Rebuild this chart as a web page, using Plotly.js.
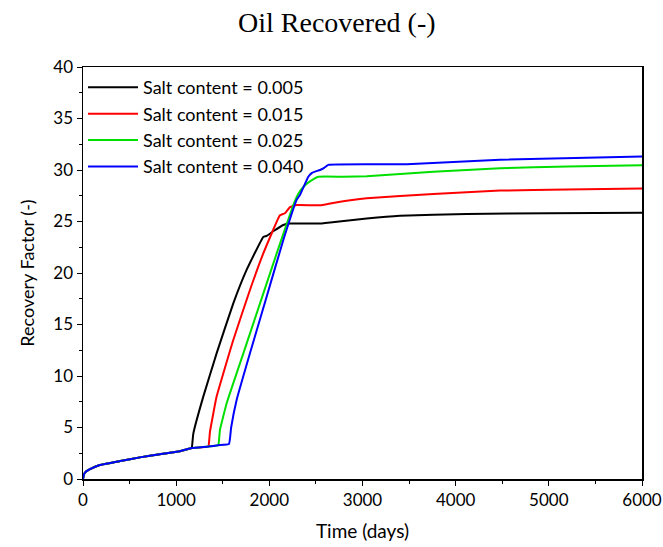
<!DOCTYPE html>
<html>
<head>
<meta charset="utf-8">
<script src="https://cdn.plot.ly/plotly-3.0.1.min.js"></script>
<style>html,body{margin:0;padding:0;background:#fff;}#chart{width:663px;height:547px;}</style>
</head>
<body>
<div id="chart"></div>
<script>
// Shared early-time curve (days, recovery factor)
const baseT = [0, 10, 30, 75, 180, 400, 610, 825, 1040, 1166];
const baseY = [0, 0.45, 0.7, 0.95, 1.36, 1.75, 2.1, 2.4, 2.7, 3.0];

const seriesNames = ["Salt content = 0.005", "Salt content = 0.015", "Salt content = 0.025", "Salt content = 0.040"];

const t005 = [1175, 1184, 1291, 1434, 1613, 1756, 1935, 1971, 2050, 2150, 2222, 2544, 2750, 3045, 3402, 4118, 5000, 6000];
const y005 = [3.6, 4.4, 8.0, 12.2, 17.05, 20.3, 23.5, 23.6, 24.1, 24.66, 24.8, 24.8, 25.0, 25.3, 25.57, 25.73, 25.8, 25.85];

const t015 = [1345, 1355, 1363, 1434, 1613, 1792, 1935, 2114, 2168, 2222, 2293, 2544, 2684, 3045, 3760, 4476, 5192, 6000];
const y015 = [3.15, 3.8, 4.6, 8.0, 13.5, 18.35, 21.9, 25.6, 25.8, 26.4, 26.6, 26.57, 26.8, 27.25, 27.67, 28.0, 28.1, 28.2];

const t025 = [1345, 1452, 1462, 1470, 1542, 1721, 1900, 2079, 2257, 2311, 2380, 2436, 2526, 2800, 3045, 3760, 4476, 5200, 6000];
const y025 = [3.15, 3.3, 4.0, 4.76, 7.35, 12.2, 17.05, 21.9, 26.6, 27.7, 28.5, 28.9, 29.35, 29.35, 29.4, 29.84, 30.16, 30.35, 30.45];

const t040 = [1345, 1452, 1567, 1590, 1649, 1792, 1971, 2150, 2293, 2330, 2400, 2418, 2454, 2490, 2544, 2580, 2633, 3474, 4476, 6000];
const y040 = [3.15, 3.28, 3.4, 5.0, 7.67, 12.2, 17.7, 23.2, 27.1, 27.6, 29.0, 29.35, 29.7, 29.84, 30.0, 30.16, 30.5, 30.55, 31.0, 31.3];

const colors = ["#000000", "#ff0000", "#00e000", "#0000ff"];
const tList = [t005, t015, t025, t040];
const yList = [y005, y015, y025, y040];

const traces = seriesNames.map((n, i) => ({
  x: baseT.concat(tList[i]),
  y: baseY.concat(yList[i]),
  name: n,
  type: "scatter",
  mode: "lines",
  line: {color: colors[i], width: 2, shape: "spline", smoothing: 0.3}
}));

const sans = "Lato, 'Open Sans', sans-serif";
const tickFont = {family: sans, size: 17, color: "#000"};

const layout = {
  width: 663, height: 547,
  margin: {l: 83, r: 21, t: 67, b: 68},
  paper_bgcolor: "#fff", plot_bgcolor: "#fff",
  showlegend: true,
  title: {text: "Oil Recovered (-)", font: {family: "'Liberation Serif', 'DejaVu Serif', serif", size: 28, color: "#000"},
          x: 0.508, xanchor: "center", xref: "container", y: 0.96, yanchor: "middle", yref: "container"},
  legend: {x: 0.0, y: 0.995, xanchor: "left", yanchor: "top", bgcolor: "rgba(255,255,255,0)",
           font: {family: sans, size: 18, color: "#000"}, tracegroupgap: 0, itemwidth: 50},
  xaxis: {
    range: [0, 6000], dtick: 1000, showgrid: false, zeroline: false,
    showline: true, linecolor: "#000", linewidth: 1.5, mirror: true,
    ticks: "outside", ticklen: 5, tickwidth: 1, tickcolor: "#000",
    minor: {dtick: 500, ticks: "outside", ticklen: 3, tickcolor: "#000", showgrid: false},
    tickfont: tickFont,
    title: {text: "Time (days)", font: {family: sans, size: 19, color: "#000"}, standoff: 16}
  },
  yaxis: {
    range: [0, 40], dtick: 5, showgrid: false, zeroline: false,
    showline: true, linecolor: "#000", linewidth: 1.5, mirror: true,
    ticks: "outside", ticklen: 5, tickwidth: 1, tickcolor: "#000",
    minor: {dtick: 2.5, ticks: "outside", ticklen: 3, tickcolor: "#000", showgrid: false},
    tickfont: tickFont,
    title: {text: "Recovery Factor (-)", font: {family: sans, size: 18, color: "#000"}, standoff: 14}
  }
};

Plotly.newPlot("chart", traces, layout, {displayModeBar: false, staticPlot: true});
</script>
</body>
</html>
